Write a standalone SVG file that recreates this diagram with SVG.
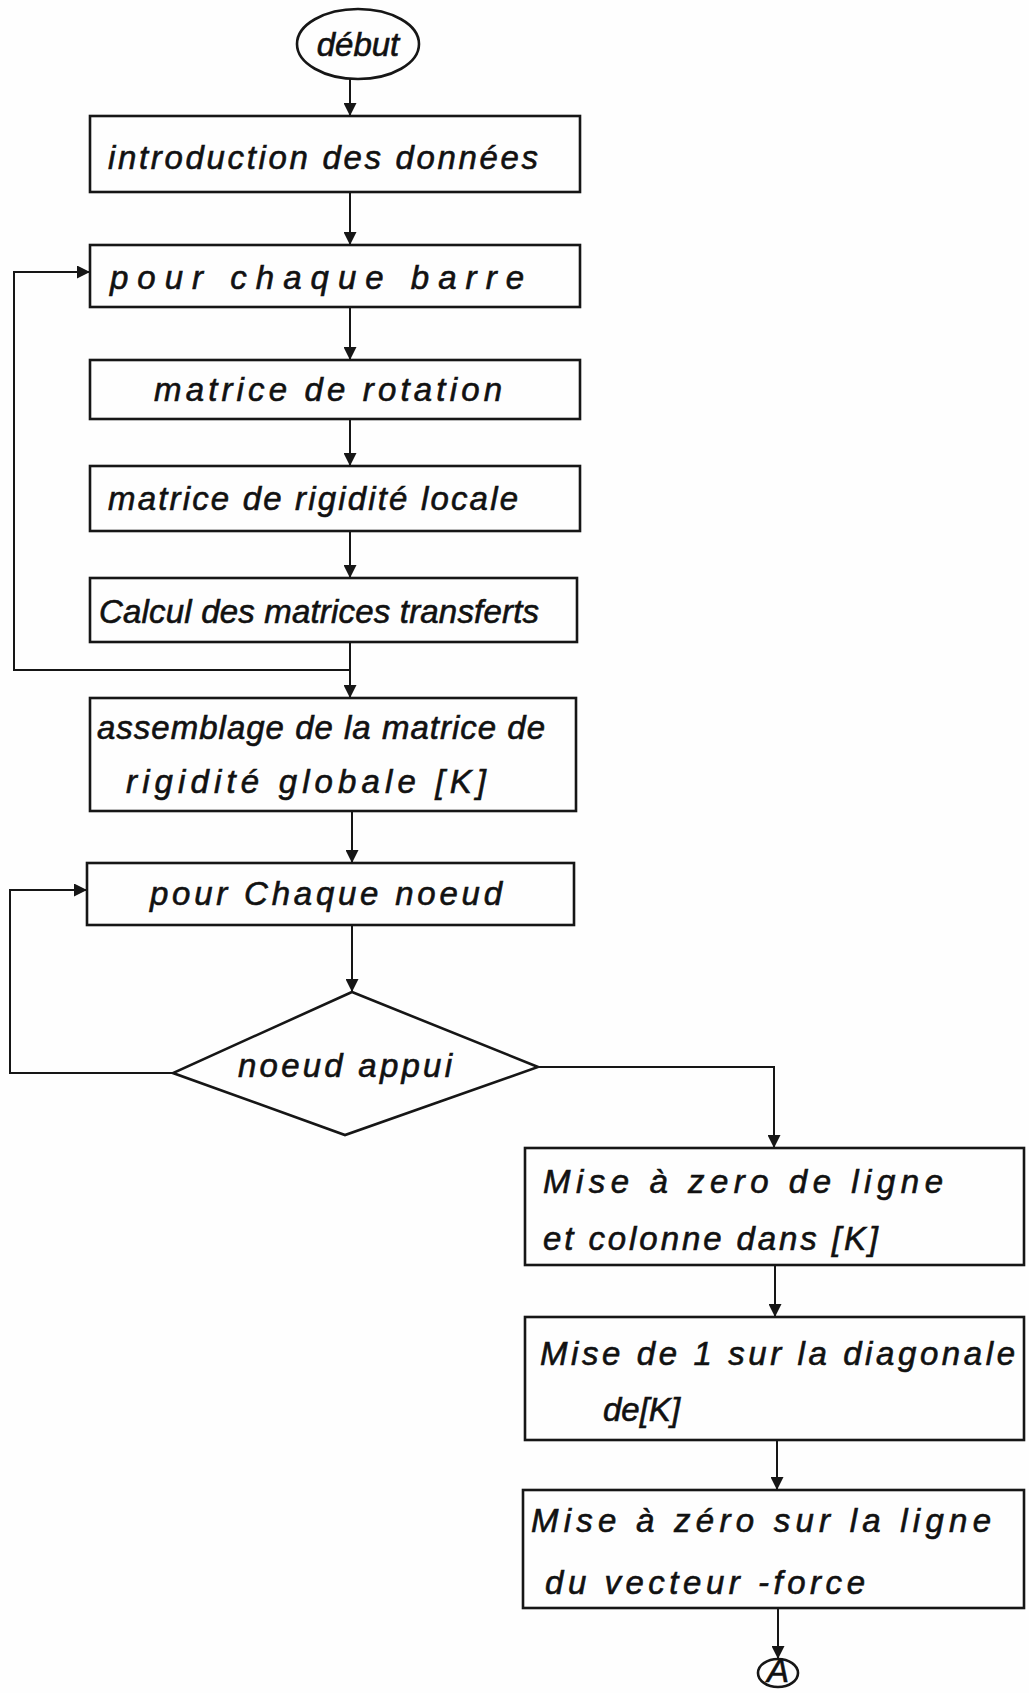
<svg xmlns="http://www.w3.org/2000/svg" width="1029" height="1693" viewBox="0 0 1029 1693">
  <style>
    .box { fill: none; stroke: #161616; stroke-width: 2.6; }
    .wire { fill: none; stroke: #161616; stroke-width: 2; }
    .lbl { font-family: "Liberation Sans", "DejaVu Sans", sans-serif; font-style: italic; font-size: 33px; fill: #111; stroke: #111; stroke-width: 0.6; }
  </style>
  <defs>
    <marker id="head" viewBox="0 0 10 10" refX="10" refY="5" markerWidth="13" markerHeight="13" markerUnits="userSpaceOnUse" orient="auto">
      <path d="M0,0 L10,5 L0,10 z" fill="#161616"/>
    </marker>
  </defs>
  <rect width="1029" height="1693" fill="#fefefe"/>

  <!-- connectors -->
  <g id="connectors">
    <line class="wire" x1="350" y1="79" x2="350" y2="116" marker-end="url(#head)"/>
    <line class="wire" x1="350" y1="192" x2="350" y2="245" marker-end="url(#head)"/>
    <line class="wire" x1="350" y1="307" x2="350" y2="360" marker-end="url(#head)"/>
    <line class="wire" x1="350" y1="419" x2="350" y2="466" marker-end="url(#head)"/>
    <line class="wire" x1="350" y1="531" x2="350" y2="578" marker-end="url(#head)"/>
    <line class="wire" x1="350" y1="642" x2="350" y2="698" marker-end="url(#head)"/>
    <!-- loop back to "pour chaque barre" -->
    <polyline class="wire" points="350,670 14,670 14,272 90,272" marker-end="url(#head)"/>
    <line class="wire" x1="352" y1="811" x2="352" y2="863" marker-end="url(#head)"/>
    <line class="wire" x1="352" y1="925" x2="352" y2="992" marker-end="url(#head)"/>
    <!-- loop back to "pour chaque noeud" -->
    <polyline class="wire" points="173,1073 10,1073 10,890 87,890" marker-end="url(#head)"/>
    <!-- support node branch -->
    <polyline class="wire" points="538,1067 774,1067 774,1148" marker-end="url(#head)"/>
    <line class="wire" x1="775" y1="1265" x2="775" y2="1317" marker-end="url(#head)"/>
    <line class="wire" x1="777" y1="1440" x2="777" y2="1490" marker-end="url(#head)"/>
    <line class="wire" x1="778" y1="1608" x2="778" y2="1659" marker-end="url(#head)"/>
  </g>

  <g id="debut">
    <ellipse class="box" cx="358" cy="44" rx="61" ry="35"/>
    <text class="lbl" x="358" y="56" text-anchor="middle">début</text>
  </g>

  <g id="donnees">
    <rect class="box" x="90" y="116" width="490" height="76"/>
    <text class="lbl" x="108" y="169" textLength="430" lengthAdjust="spacing">introduction des données</text>
  </g>

  <g id="barre">
    <rect class="box" x="90" y="245" width="490" height="62"/>
    <text class="lbl" x="110" y="289" textLength="414" lengthAdjust="spacing">pour   chaque    barre</text>
  </g>

  <g id="rotation">
    <rect class="box" x="90" y="360" width="490" height="59"/>
    <text class="lbl" x="154" y="401" textLength="348" lengthAdjust="spacing">matrice de rotation</text>
  </g>

  <g id="rigidite-locale">
    <rect class="box" x="90" y="466" width="490" height="65"/>
    <text class="lbl" x="108" y="510" textLength="410" lengthAdjust="spacing">matrice de rigidité locale</text>
  </g>

  <g id="transferts">
    <rect class="box" x="90" y="578" width="487" height="64"/>
    <text class="lbl" x="99" y="623" font-size="30" textLength="440" lengthAdjust="spacing">Calcul des matrices transferts</text>
  </g>

  <g id="assemblage">
    <rect class="box" x="90" y="698" width="486" height="113"/>
    <text class="lbl" x="97" y="739" font-size="31" textLength="448" lengthAdjust="spacing">assemblage de la matrice de</text>
    <text class="lbl" x="126" y="793" textLength="360" lengthAdjust="spacing">rigidité globale [K]</text>
  </g>

  <g id="noeud">
    <rect class="box" x="87" y="863" width="487" height="62"/>
    <text class="lbl" x="150" y="905" textLength="352" lengthAdjust="spacing">pour Chaque noeud</text>
  </g>

  <g id="appui">
    <polygon class="box" points="352,992 538,1067 345,1135 173,1073"/>
    <text class="lbl" x="238" y="1077" textLength="214" lengthAdjust="spacing">noeud appui</text>
  </g>

  <g id="zero-ligne-colonne">
    <rect class="box" x="525" y="1148" width="499" height="117"/>
    <text class="lbl" x="543" y="1193" textLength="400" lengthAdjust="spacing">Mise à zero de ligne</text>
    <text class="lbl" x="543" y="1250" textLength="335" lengthAdjust="spacing">et colonne dans [K]</text>
  </g>

  <g id="diagonale">
    <rect class="box" x="525" y="1317" width="499" height="123"/>
    <text class="lbl" x="540" y="1365" textLength="475" lengthAdjust="spacing">Mise de 1 sur la diagonale</text>
    <text class="lbl" x="603" y="1421">de[K]</text>
  </g>

  <g id="vecteur-force">
    <rect class="box" x="523" y="1490" width="501" height="118"/>
    <text class="lbl" x="531" y="1532" textLength="460" lengthAdjust="spacing">Mise à zéro sur la ligne</text>
    <text class="lbl" x="545" y="1594" textLength="320" lengthAdjust="spacing">du vecteur -force</text>
  </g>

  <g id="connecteur-A">
    <ellipse class="box" cx="778" cy="1673" rx="20" ry="14"/>
    <text class="lbl" x="778" y="1682" text-anchor="middle" font-size="24" font-style="normal">A</text>
  </g>
</svg>
